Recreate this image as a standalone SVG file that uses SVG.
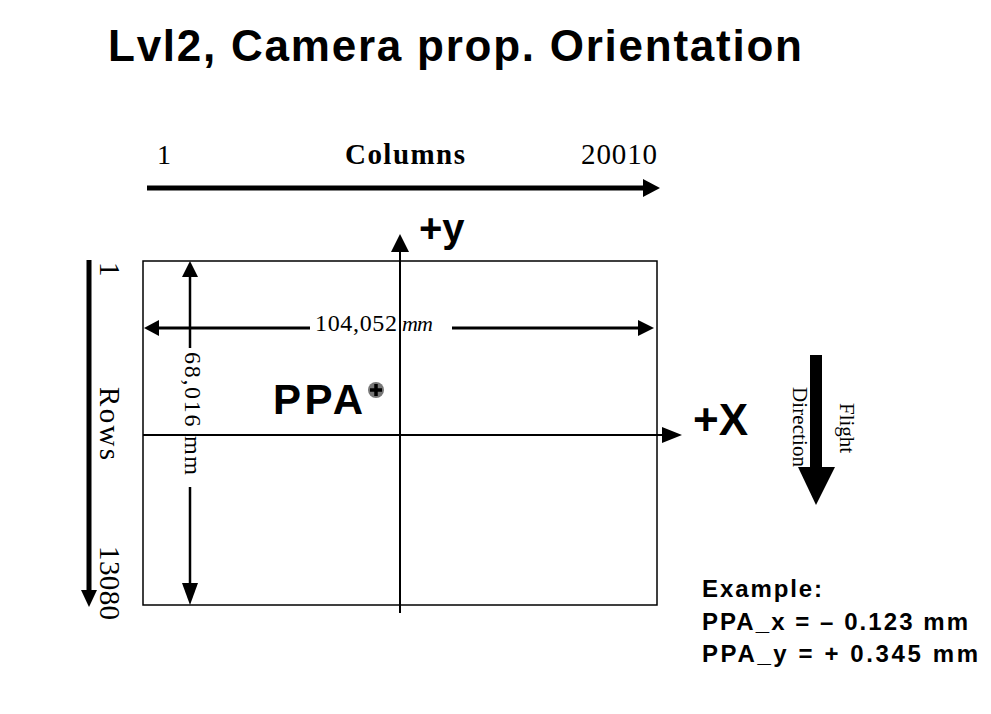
<svg xmlns="http://www.w3.org/2000/svg" width="991" height="714" viewBox="0 0 991 714">
<style>
.sans{font-family:"Liberation Sans",Arial,sans-serif;font-weight:bold;fill:#000}
.serif{font-family:"Liberation Serif","Times New Roman",serif;fill:#000}
.ln{stroke:#000;fill:none}
.hd{fill:#000;stroke:none}
</style>
<rect width="991" height="714" fill="#fff"/>
<g id="title"><text class="sans" x="108" y="61" font-size="44" textLength="694" lengthAdjust="spacing">Lvl2, Camera prop. Orientation</text></g>
<g id="columns-label">
<text class="serif" x="157" y="164" font-size="28">1</text>
<text class="serif" x="345" y="164" font-size="29" font-weight="bold" textLength="120" lengthAdjust="spacing">Columns</text>
<text class="serif" x="581" y="164" font-size="29" textLength="76" lengthAdjust="spacing">20010</text>
</g>
<g id="rows-label">
<text class="serif" font-size="29" transform="translate(100,262) rotate(90)">1</text>
<text class="serif" font-size="29" transform="translate(100,387) rotate(90)" textLength="73" lengthAdjust="spacing">Rows</text>
<text class="serif" font-size="29" transform="translate(100,546) rotate(90)" textLength="74" lengthAdjust="spacing">13080</text>
</g>
<g id="frame"><rect x="143" y="261" width="514" height="344" fill="none" stroke="#000" stroke-width="1.5"/></g>
<g id="connectors">
<line class="ln" x1="147" y1="188" x2="645" y2="188" stroke-width="5"/>
<polygon class="hd" points="643,179 660,188 643,197"/>
<line class="ln" x1="89" y1="260" x2="89" y2="592" stroke-width="5"/>
<polygon class="hd" points="81,590 89,607 97,590"/>
<line class="ln" x1="400" y1="613" x2="400" y2="250" stroke-width="2"/>
<polygon class="hd" points="391,252 400,234 409,252"/>
<line class="ln" x1="143" y1="435" x2="665" y2="435" stroke-width="2"/>
<polygon class="hd" points="662,427 682,435 662,443"/>
<line class="ln" x1="157" y1="328" x2="310" y2="328" stroke-width="3"/>
<line class="ln" x1="452" y1="328" x2="640" y2="328" stroke-width="3"/>
<polygon class="hd" points="159,320 144,328 159,336"/>
<polygon class="hd" points="638,320 654,328 638,336"/>
<line class="ln" x1="190" y1="275" x2="190" y2="348" stroke-width="2.5"/>
<line class="ln" x1="190" y1="487" x2="190" y2="585" stroke-width="2.5"/>
<polygon class="hd" points="182,277 190,261 198,277"/>
<polygon class="hd" points="182,583 190,605 198,583"/>
<rect x="810" y="355" width="12" height="114" class="hd"/>
<polygon class="hd" points="798,467 835,467 816,505"/>
</g>
<g id="dim-labels">
<text class="serif" x="315" y="331" font-size="24" textLength="82" lengthAdjust="spacing">104,052</text>
<text class="serif" x="402" y="331" font-size="22" font-style="italic" textLength="31" lengthAdjust="spacing">mm</text>
<text class="serif" font-size="24" transform="translate(185,352) rotate(90)" textLength="123" lengthAdjust="spacing">68,016 mm</text>
</g>
<g id="axis-labels">
<text class="sans" x="419" y="242" font-size="40">+y</text>
<text class="sans" x="693" y="435" font-size="44">+X</text>
</g>
<g id="ppa">
<text class="sans" x="273" y="414" font-size="42" textLength="90" lengthAdjust="spacing">PPA</text>
<circle cx="376" cy="390" r="8" fill="#777"/>
<path d="M370 390H382M376 384V396" stroke="#000" stroke-width="3.5"/>
</g>
<g id="flight-direction">
<text class="serif" font-size="21" transform="translate(840,403) rotate(90)">Flight</text>
<text class="serif" font-size="21" transform="translate(793,387) rotate(90)" textLength="80" lengthAdjust="spacing">Direction</text>
</g>
<g id="example">
<text class="sans" x="702" y="597" font-size="24" textLength="120" lengthAdjust="spacing">Example:</text>
<text class="sans" x="702" y="630" font-size="24" textLength="266" lengthAdjust="spacing">PPA_x = – 0.123 mm</text>
<text class="sans" x="702" y="662" font-size="24" textLength="276" lengthAdjust="spacing">PPA_y = +  0.345 mm</text>
</g>
</svg>
